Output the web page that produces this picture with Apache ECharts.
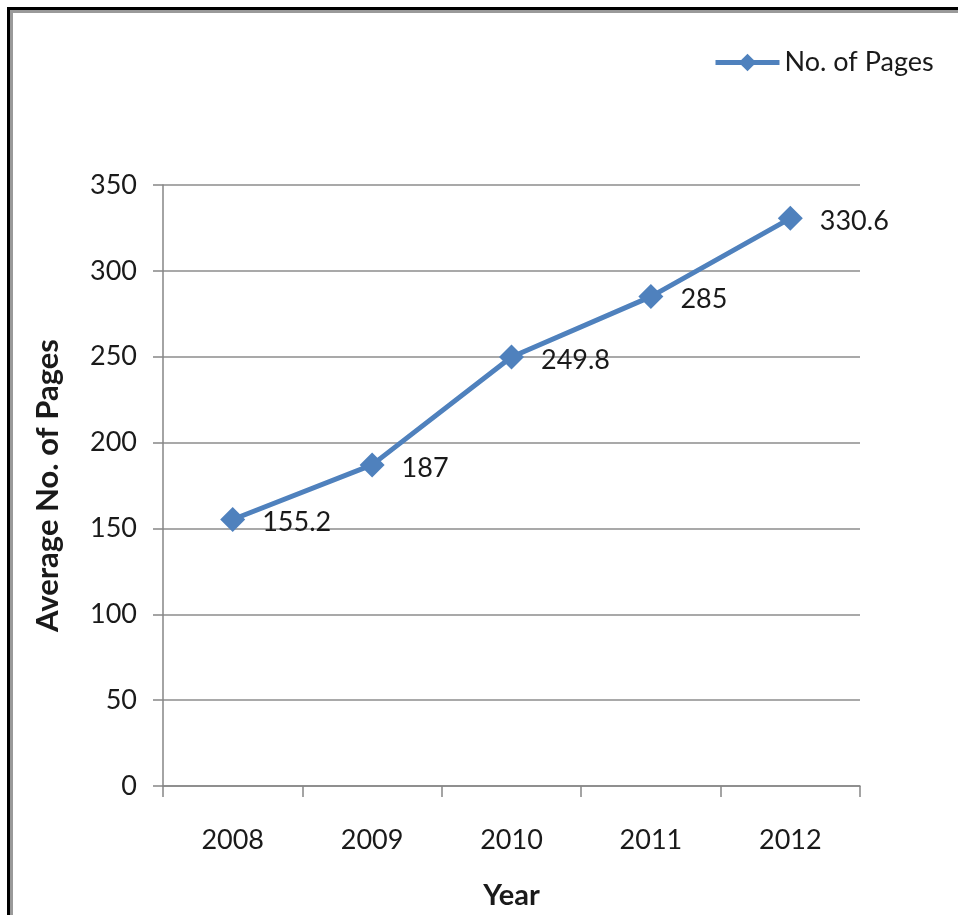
<!DOCTYPE html>
<html><head><meta charset="utf-8">
<script src="https://cdn.jsdelivr.net/npm/echarts@6/dist/echarts.min.js"></script>
<style>html,body{margin:0;padding:0;background:#fff}#c{width:958px;height:915px}</style>
</head><body><div id="c"></div>
<script>
const categories = ['2008', '2009', '2010', '2011', '2012'];
const pages = [155.2, 187, 249.8, 285, 330.6];
const seriesName = 'No. of Pages';
const yTitle = 'Average No. of Pages';
const xTitle = 'Year';

const chart = echarts.init(document.getElementById('c'));
const font = 'Lato, "Open Sans", sans-serif';
chart.setOption({
  animation: false,
  backgroundColor: '#fff',
  textStyle: { fontFamily: font },
  graphic: [
    { type: 'rect', shape: { x: 11.5, y: 11.5, width: 1000, height: 1000 }, style: { fill: 'none', stroke: '#9a9a9a', lineWidth: 3 }, silent: true },
    { type: 'rect', shape: { x: 8.5, y: 8.5, width: 1000, height: 1000 }, style: { fill: 'none', stroke: '#000', lineWidth: 3 }, silent: true }
  ],
  legend: {
    left: 708, top: 44,
    itemWidth: 64, itemHeight: 22,
    itemGap: 4,
    lineStyle: { width: 5 },
    textStyle: { fontSize: 27, color: '#1a1a1a', fontFamily: font },
    data: [seriesName]
  },
  grid: { left: 163, right: 98, top: 185, bottom: 127, containLabel: false },
  xAxis: {
    type: 'category', data: categories, boundaryGap: true,
    name: xTitle, nameLocation: 'middle', nameGap: 95,
    nameTextStyle: { fontSize: 29, fontWeight: 'bold', color: '#1a1a1a', fontFamily: font },
    axisLine: { lineStyle: { color: '#868686', width: 1.5 } },
    axisTick: { show: true, length: 11, alignWithLabel: false, lineStyle: { color: '#868686', width: 1.5 } },
    axisLabel: { fontSize: 27, color: '#1a1a1a', margin: 41, fontFamily: font },
    splitLine: { show: false }
  },
  yAxis: {
    type: 'value', min: 0, max: 350, interval: 50,
    name: yTitle, nameLocation: 'middle', nameGap: 100,
    nameTextStyle: { fontSize: 31, fontWeight: 'bold', color: '#1a1a1a', fontFamily: font },
    axisLine: { show: true, lineStyle: { color: '#868686', width: 1.5 } },
    axisTick: { show: true, length: 10, lineStyle: { color: '#868686', width: 1.5 } },
    axisLabel: { fontSize: 27, color: '#1a1a1a', margin: 26, fontFamily: font },
    splitLine: { show: true, lineStyle: { color: '#8c8c8c', width: 1.5 } }
  },
  series: [{
    name: seriesName, type: 'line', data: pages,
    symbol: 'diamond', symbolSize: 25,
    lineStyle: { color: '#4F81BD', width: 5 },
    itemStyle: { color: '#4F81BD' },
    label: { show: true, position: 'right', distance: 17, offset: [0, 3], fontSize: 27, color: '#1a1a1a', fontFamily: font }
  }]
});
</script></body></html>
